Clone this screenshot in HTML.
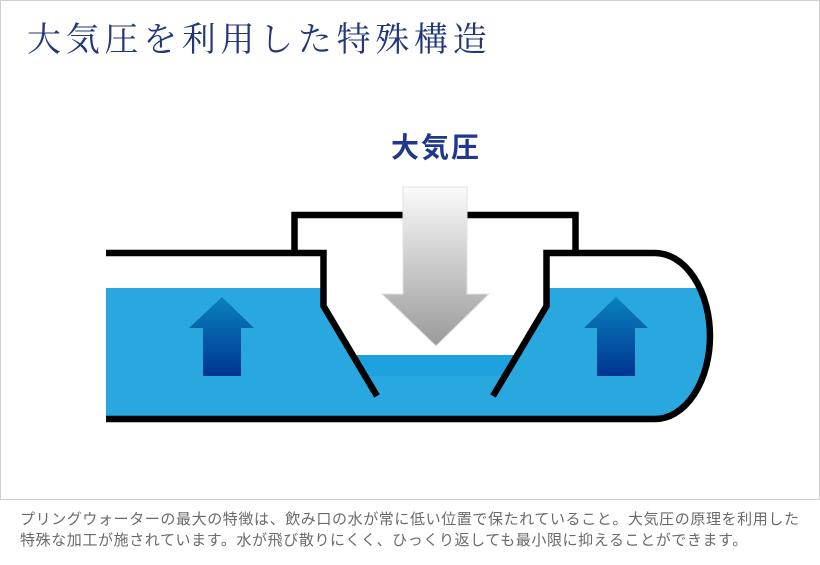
<!DOCTYPE html>
<html>
<head>
<meta charset="utf-8">
<style>
  html,body{margin:0;padding:0;background:#fff;}
  body{width:820px;height:565px;position:relative;overflow:hidden;}
  .frame{position:absolute;left:0;top:0;width:820px;height:500px;box-sizing:border-box;border:1px solid #cfcfcf;}
  .title{position:absolute;left:27px;top:22px;font-family:"Liberation Serif","Noto Serif CJK SC",serif;font-size:34px;line-height:38px;letter-spacing:4.7px;color:#22377a;white-space:nowrap;}
  .label{position:absolute;left:391px;top:132px;font-family:"Liberation Sans","Noto Sans CJK JP",sans-serif;font-weight:bold;font-size:28px;line-height:32px;letter-spacing:2px;color:#1f388c;white-space:nowrap;}
  .desc{position:absolute;left:20px;top:509px;font-family:"Liberation Sans","Noto Sans CJK JP",sans-serif;font-size:15px;line-height:21px;letter-spacing:0.6px;color:#6a6a6a;white-space:nowrap;}
  svg{position:absolute;left:0;top:0;}
</style>
</head>
<body>
<div class="frame"></div>
<div class="title">大気圧を利用した特殊構造</div>
<div class="label">大気圧</div>
<svg width="820" height="500" viewBox="0 0 820 500">
  <defs>
    <clipPath id="pipe">
      <path d="M106,253 H655 A55,83 0 0 1 655,419 H106 Z"/>
    </clipPath>
    <clipPath id="chamber">
      <polygon points="323.5,250 546.5,250 546.5,306 494,395 376,395 323.5,306"/>
    </clipPath>
    <linearGradient id="blueArrow" x1="0" y1="0" x2="0" y2="1">
      <stop offset="0" stop-color="#0a82bd"/>
      <stop offset="1" stop-color="#003592"/>
    </linearGradient>
    <linearGradient id="grayArrow" x1="0" y1="187" x2="0" y2="346" gradientUnits="userSpaceOnUse">
      <stop offset="0" stop-color="#fbfbfb"/>
      <stop offset="1" stop-color="#9a9a9a"/>
    </linearGradient>
  </defs>

  <!-- water -->
  <g clip-path="url(#pipe)">
    <rect x="100" y="288" width="640" height="140" fill="#29a7df"/>
    <g clip-path="url(#chamber)">
      <rect x="300" y="240" width="270" height="115" fill="#ffffff"/>
      <rect x="300" y="355" width="270" height="21" fill="#1ea2df"/>
    </g>
  </g>

  <!-- blue arrows -->
  <polygon points="222,297 254,328 241,328 241,376 203,376 203,328 189,328" fill="url(#blueArrow)"/>
  <polygon points="616,297 648,328 635,328 635,376 597,376 597,328 584,328" fill="url(#blueArrow)"/>

  <!-- pipe outlines -->
  <g fill="none" stroke="#000" stroke-width="6.5" stroke-linejoin="miter">
    <path d="M106,253 H323.5 V306 L377,396"/>
    <path d="M493,396 L546.5,306 V253 H655 A55,83 0 0 1 655,419 H106"/>
    <path d="M294.5,253 V215 H575.5 V253"/>
  </g>

  <!-- gray arrow -->
  <polygon points="403,187 467,187 467,294 489,294 436,346 382,294 403,294" fill="url(#grayArrow)" stroke="#e2e2e2" stroke-width="1"/>
</svg>
<div class="desc">プリングウォーターの最大の特徴は、飲み口の水が常に低い位置で保たれていること。大気圧の原理を利用した<br>特殊な加工が施されています。水が飛び散りにくく、ひっくり返しても最小限に抑えることができます。</div>
</body>
</html>
